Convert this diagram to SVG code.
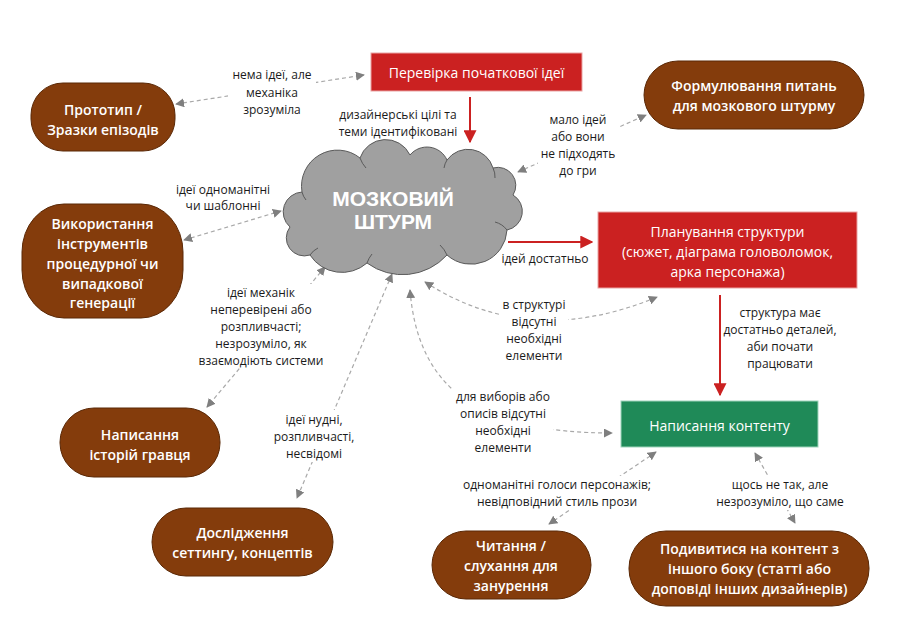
<svg xmlns="http://www.w3.org/2000/svg" width="900" height="636" viewBox="0 0 900 636">
<defs>
<style>
.lbl{font-family:"Open Sans","Noto Sans","DejaVu Sans",sans-serif;font-size:12px;fill:#1a1a1a;text-anchor:middle}
.nt{font-family:"Open Sans","Noto Sans","DejaVu Sans",sans-serif;font-size:14px;fill:#ffffff;text-anchor:middle}
.bt{font-weight:600}
.brown{fill:#843C0C;stroke:#5a2806;stroke-width:1}
.red{fill:#CB2121;stroke:#e9a3a3;stroke-width:1}
.green{fill:#1F8A58;stroke:#9fd4bb;stroke-width:1}
.dash{fill:none;stroke:#a9a9a9;stroke-width:1.2;stroke-dasharray:4 3;marker-start:url(#ga);marker-end:url(#ga)}
.solid{fill:none;stroke:#CB2121;stroke-width:2;marker-end:url(#ra)}
.bg{fill:#ffffff}
</style>
<marker id="ga" viewBox="0 0 10 10" refX="9" refY="5" markerWidth="9" markerHeight="9" markerUnits="userSpaceOnUse" orient="auto-start-reverse">
<path d="M0,0 L10,5 L0,10 Z" fill="#7f7f7f"/>
</marker>
<marker id="ra" viewBox="0 0 10 10" refX="9" refY="5" markerWidth="13" markerHeight="13" markerUnits="userSpaceOnUse" orient="auto">
<path d="M0,0 L10,5 L0,10 Z" fill="#CB2121"/>
</marker>
</defs>
<rect width="900" height="636" fill="#ffffff"/>

<g id="connectors">
<path class="solid" d="M470,97 L470,142"/>
<path class="solid" d="M508,242 L592,242"/>
<path class="solid" d="M720,295 L720,395"/>
<path class="dash" d="M176,104 L364,75"/>
<path class="dash" d="M518,172 L646,115"/>
<path class="dash" d="M184,240 L281,211"/>
<path class="dash" d="M325,267 L207,407"/>
<path class="dash" d="M392,274 L297,498"/>
<path class="dash" d="M410,290 C418,390 480,433 612,433"/>
<path class="dash" d="M425,282 Q530,350 657,297"/>
<path class="dash" d="M656,452 L549,524"/>
<path class="dash" d="M755,453 L795,523"/>
</g>

<g id="labels">
<rect class="bg" x="228" y="64" width="88" height="54"/>
<text class="lbl" x="272" y="79">нема ідеї, але</text>
<text class="lbl" x="272" y="97">механіка</text>
<text class="lbl" x="272" y="114">зрозуміла</text>

<text class="lbl" x="398" y="119">дизайнерські цілі та</text>
<text class="lbl" x="398" y="136">теми ідентифіковані</text>

<rect class="bg" x="538" y="110" width="80" height="70"/>
<text class="lbl" x="578" y="124">мало ідей</text>
<text class="lbl" x="578" y="141">або вони</text>
<text class="lbl" x="578" y="158">не підходять</text>
<text class="lbl" x="578" y="175">до гри</text>

<text class="lbl" x="223" y="194">ідеї одноманітні</text>
<text class="lbl" x="223" y="210">чи шаблонні</text>

<rect class="bg" x="198" y="284" width="126" height="84"/>
<text class="lbl" x="261" y="297">ідеї механік</text>
<text class="lbl" x="261" y="314">неперевірені або</text>
<text class="lbl" x="261" y="331">розпливчасті;</text>
<text class="lbl" x="261" y="348">незрозуміло, як</text>
<text class="lbl" x="261" y="365">взаємодіють системи</text>

<rect class="bg" x="272" y="410" width="84" height="52"/>
<text class="lbl" x="314" y="424">ідеї нудні,</text>
<text class="lbl" x="314" y="441">розпливчасті,</text>
<text class="lbl" x="314" y="458">несвідомі</text>

<text class="lbl" x="545" y="263">ідей достатньо</text>

<rect class="bg" x="500" y="296" width="68" height="68"/>
<text class="lbl" x="534" y="309">в структурі</text>
<text class="lbl" x="534" y="326">відсутні</text>
<text class="lbl" x="534" y="343">необхідні</text>
<text class="lbl" x="534" y="360">елементи</text>

<rect class="bg" x="453" y="388" width="100" height="68"/>
<text class="lbl" x="503" y="401">для виборів або</text>
<text class="lbl" x="503" y="418">описів відсутні</text>
<text class="lbl" x="503" y="435">необхідні</text>
<text class="lbl" x="503" y="452">елементи</text>

<text class="lbl" x="780" y="317">структура має</text>
<text class="lbl" x="780" y="334">достатньо деталей,</text>
<text class="lbl" x="780" y="351">аби почати</text>
<text class="lbl" x="780" y="368">працювати</text>

<rect class="bg" x="460" y="476" width="196" height="34"/>
<text class="lbl" x="557" y="489">одноманітні голоси персонажів;</text>
<text class="lbl" x="557" y="506">невідповідний стиль прози</text>

<rect class="bg" x="715" y="476" width="130" height="34"/>
<text class="lbl" x="780" y="489">щось не так, але</text>
<text class="lbl" x="780" y="506">незрозуміло, що саме</text>
</g>

<g id="node-perevirka">
<rect class="red" x="371" y="53" width="211" height="38"/>
<text class="nt" x="476.5" y="78">Перевірка початкової ідеї</text>
</g>

<g id="node-prototype">
<rect class="brown" x="31" y="83" width="144" height="68" rx="32" ry="32"/>
<text class="nt bt" x="103" y="115">Прототип /</text>
<text class="nt bt" x="103" y="135">Зразки епізодів</text>
</g>

<g id="node-formuliuvannia">
<rect class="brown" x="644" y="61" width="220" height="68" rx="34" ry="34"/>
<text class="nt bt" x="754" y="91">Формулювання питань</text>
<text class="nt bt" x="754" y="111">для мозкового штурму</text>
</g>

<g id="node-vykorystannia">
<rect class="brown" x="22" y="204" width="161" height="114" rx="42" ry="48"/>
<text class="nt bt" x="102.5" y="229">Використання</text>
<text class="nt bt" x="102.5" y="249">інструментів</text>
<text class="nt bt" x="102.5" y="269">процедурної чи</text>
<text class="nt bt" x="102.5" y="289">випадкової</text>
<text class="nt bt" x="102.5" y="308">генерації</text>
</g>

<g id="node-shturm">
<path d="M290,227 A20,20 0 0 1 302,192 A36,36 0 0 1 360,158 A27,27 0 0 1 410,155 A22,22 0 0 1 447,160 A26,26 0 0 1 493,168 A18,18 0 0 1 513,195 A19,19 0 0 1 507,230 A36,36 0 0 1 447,255 A60,60 0 0 1 367,263 A38,38 0 0 1 310,255 A18,18 0 0 1 290,227 Z" fill="#A0A0A0" stroke="#5a5a5a" stroke-width="1"/>
<path d="M302,192 A20,20 0 0 0 306,200 M360,158 A30,30 0 0 0 366,168 M447,160 A20,20 0 0 0 444,168 M493,168 A20,20 0 0 1 495,178 M507,230 A22,22 0 0 0 495,222 M447,255 A30,30 0 0 0 440,245 M367,263 A30,30 0 0 1 372,254 M310,255 A20,20 0 0 1 318,248" fill="none" stroke="#5a5a5a" stroke-width="1"/>
<text x="393" y="206" text-anchor="middle" font-family="'Liberation Sans',Arial,sans-serif" font-weight="bold" font-size="21" fill="#ffffff">МОЗКОВИЙ</text>
<text x="393" y="229" text-anchor="middle" font-family="'Liberation Sans',Arial,sans-serif" font-weight="bold" font-size="21" fill="#ffffff">ШТУРМ</text>
</g>

<g id="node-planuvannia">
<rect class="red" x="598" y="212" width="259" height="76"/>
<text class="nt" x="727.5" y="237">Планування структури</text>
<text class="nt" x="727.5" y="257">(сюжет, діаграма головоломок,</text>
<text class="nt" x="727.5" y="277">арка персонажа)</text>
</g>

<g id="node-napysannia-kontentu">
<rect class="green" x="621" y="401" width="197" height="46"/>
<text class="nt" x="719.5" y="431">Написання контенту</text>
</g>

<g id="node-istorii">
<rect class="brown" x="60" y="408" width="160" height="69" rx="34" ry="34"/>
<text class="nt bt" x="140" y="440">Написання</text>
<text class="nt bt" x="140" y="460">історій гравця</text>
</g>

<g id="node-doslidzhennia">
<rect class="brown" x="152" y="508" width="181" height="68" rx="34" ry="34"/>
<text class="nt bt" x="242.5" y="538">Дослідження</text>
<text class="nt bt" x="242.5" y="558">сеттингу, концептів</text>
</g>

<g id="node-chytannia">
<rect class="brown" x="432" y="531" width="159" height="68" rx="34" ry="34"/>
<text class="nt bt" x="511" y="551">Читання /</text>
<text class="nt bt" x="511" y="571">слухання для</text>
<text class="nt bt" x="511" y="591">занурення</text>
</g>

<g id="node-podyvytysia">
<rect class="brown" x="629" y="531" width="240" height="75" rx="37" ry="37"/>
<text class="nt bt" x="749.5" y="554">Подивитися на контент з</text>
<text class="nt bt" x="749.5" y="574">іншого боку (статті або</text>
<text class="nt bt" x="749.5" y="594">доповіді інших дизайнерів)</text>
</g>
</svg>
